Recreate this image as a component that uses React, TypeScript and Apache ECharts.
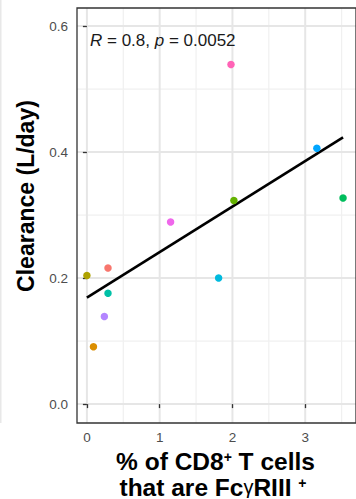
import React, { useEffect, useRef } from "react";
import * as echarts from "echarts";

const subjects = ["S1", "S2", "S3", "S4", "S5", "S6", "S7", "S8", "S9", "S10", "S11"];
const fcgrPct = [0.29, 0.09, 0.0, 2.02, 3.52, 0.29, 1.81, 3.16, 0.24, 1.15, 1.98];
const clearance = [0.216, 0.091, 0.204, 0.323, 0.327, 0.176, 0.2, 0.406, 0.139, 0.289, 0.539];
const pointColors = ["#F8766D", "#DB8E00", "#AEA200", "#64B200", "#00BD5C", "#00C1A7", "#00BADE", "#00A6FF", "#B385FF", "#EF67EB", "#FF63B6"];

const xTicks = [0, 1, 2, 3];
const xMinor = [0.5, 1.5, 2.5, 3.5];
const yTicks = [0, 0.2, 0.4, 0.6];
const yMinor = [0.1, 0.3, 0.5];
const xRange = [-0.136, 3.698];
const yRange = [-0.03, 0.6286];
const statText = "{i|R} = 0.8, {i|p} = 0.0052";

function fitLine(xs: number[], ys: number[]) {
  const n = xs.length;
  const mx = xs.reduce((a, b) => a + b, 0) / n;
  const my = ys.reduce((a, b) => a + b, 0) / n;
  let sxy = 0, sxx = 0;
  for (let i = 0; i < n; i++) {
    sxy += (xs[i] - mx) * (ys[i] - my);
    sxx += (xs[i] - mx) * (xs[i] - mx);
  }
  const b = sxy / sxx;
  const a = my - b * mx;
  const x0 = Math.min(...xs), x1 = Math.max(...xs);
  return [[x0, a + b * x0], [x1, a + b * x1]];
}

export default function App() {
  const ref = useRef<HTMLDivElement>(null);
  useEffect(() => {
    if (!ref.current) return;
    const chart = echarts.init(ref.current, null, { renderer: "svg" });
    const font = "Liberation Sans, Arial, sans-serif";
    const texts = [
      { type: "rect", shape: { x: 0, y: 0, width: 1.5, height: 423 }, style: { fill: "#E8E8E8" } },
      {
        type: "text", x: 90, y: 40, z: 10,
        style: {
          text: statText, fill: "#1A1A1A", fontSize: 17, fontFamily: font,
          verticalAlign: "middle",
          rich: { i: { fontStyle: "italic", fontSize: 17, fontFamily: font, fill: "#1A1A1A" } },
        },
      },
      {
        type: "text", x: 26, y: 196, rotation: Math.PI / 2,
        style: {
          text: "Clearance (L/day)", fill: "#000000", fontSize: 23, fontWeight: "bold", fontFamily: font,
          align: "center", verticalAlign: "middle",
        },
      },
      {
        type: "text", x: 215.5, y: 461,
        style: {
          text: "% of CD8{sup|+} T cells", fill: "#000000", fontSize: 24.5, fontWeight: "bold", fontFamily: font,
          align: "center", verticalAlign: "middle", lineHeight: 23,
          rich: {
            sup: { fontSize: 14, fontWeight: "bold", fontFamily: font, verticalAlign: "top", lineHeight: 14, fill: "#000000" },
          },
        },
      },
      {
        type: "text", x: 213, y: 487,
        style: {
          text: "that are Fc{g|γ}RIII {sup|+}", fill: "#000000", fontSize: 24.5, fontWeight: "bold", fontFamily: font,
          align: "center", verticalAlign: "middle", lineHeight: 23,
          rich: {
            g: { fontSize: 20, fontWeight: "normal", fontFamily: font, fill: "#000000", lineHeight: 23 },
            sup: { fontSize: 14, fontWeight: "bold", fontFamily: font, verticalAlign: "top", lineHeight: 14, fill: "#000000" },
          },
        },
      },
    ];
    chart.setOption({
      animation: false,
      grid: {
        left: 77, top: 8, right: -2, bottom: 76,
        show: true, borderColor: "#333333", borderWidth: 1.3, backgroundColor: "transparent",
      },
      xAxis: {
        type: "value", min: xRange[0], max: xRange[1],
        axisLine: { show: false },
        splitLine: { show: false },
        axisTick: { show: true, customValues: xTicks, length: 4, lineStyle: { color: "#333333", width: 1.3 } },
        axisLabel: { customValues: xTicks, color: "#4D4D4D", fontSize: 13.5, fontFamily: font, margin: 7 },
      },
      yAxis: {
        type: "value", min: yRange[0], max: yRange[1],
        axisLine: { show: false },
        splitLine: { show: false },
        axisTick: { show: true, customValues: yTicks, length: 4, lineStyle: { color: "#333333", width: 1.3 } },
        axisLabel: {
          customValues: yTicks, color: "#4D4D4D", fontSize: 13.5, fontFamily: font, margin: 9,
          formatter: (v: number) => v.toFixed(1),
        },
      },
      series: [
        {
          type: "line",
          name: "fit",
          data: fitLine(fcgrPct, clearance),
          showSymbol: false,
          lineStyle: { color: "#000000", width: 2.6 },
          z: 5,
        },
        {
          type: "scatter",
          name: "points",
          symbolSize: 7.5,
          z: 6,
          data: fcgrPct.map((x, i) => ({
            name: subjects[i],
            value: [x, clearance[i]],
            itemStyle: { color: pointColors[i], opacity: 1 },
          })),
        },
      ],
      graphic: texts,
    });

    // gridlines placed through the chart's own axis scales
    const toPx = (x: number, y: number) => chart.convertToPixel({ gridIndex: 0 }, [x, y]) as number[];
    const topLeft = toPx(xRange[0], yRange[1]);
    const bottomRight = toPx(xRange[1], yRange[0]);
    const top = topLeft[1], bottom = bottomRight[1], left = topLeft[0], right = bottomRight[0];
    const gridRects: any[] = [];
    const addX = (vals: number[], w: number, fill: string) =>
      vals.forEach((v) => {
        const px = toPx(v, yRange[0])[0];
        gridRects.push({ type: "rect", z: -1, silent: true, shape: { x: px - w / 2, y: top, width: w, height: bottom - top }, style: { fill } });
      });
    const addY = (vals: number[], w: number, fill: string) =>
      vals.forEach((v) => {
        const py = toPx(xRange[0], v)[1];
        gridRects.push({ type: "rect", z: -1, silent: true, shape: { x: left, y: py - w / 2, width: right - left, height: w }, style: { fill } });
      });
    addX(xMinor, 1.2, "#F0F0F0");
    addY(yMinor, 1.2, "#F0F0F0");
    addX(xTicks, 2, "#E6E6E6");
    addY(yTicks, 2, "#E6E6E6");
    chart.setOption({ graphic: [...texts, ...gridRects] });

    return () => chart.dispose();
  }, []);
  return (
    <div
      ref={ref}
      style={{ position: "fixed", left: 0, top: 0, width: 356, height: 499, background: "#ffffff" }}
    />
  );
}
